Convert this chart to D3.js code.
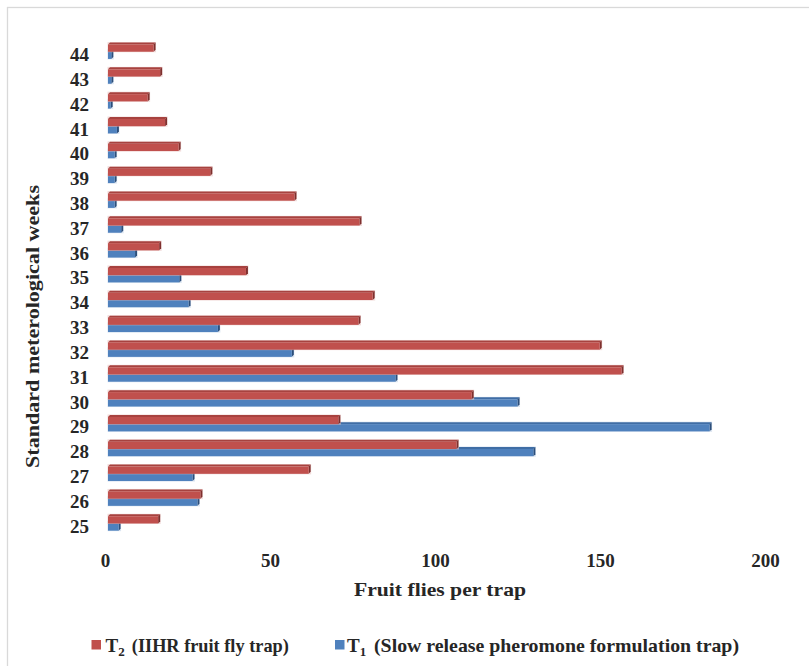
<!DOCTYPE html>
<html>
<head>
<meta charset="utf-8">
<script src="https://cdn.jsdelivr.net/npm/d3@7"></script>
<style>
  html, body { margin: 0; padding: 0; background: #ffffff; }
  svg { display: block; }
  text { font-family: "Liberation Serif", "DejaVu Serif", serif; font-weight: bold; fill: #262626; }
</style>
</head>
<body>
<svg id="chart" width="809" height="666"></svg>
<script>
// Standard meteorological weeks, top of the chart first
const weeks = [44, 43, 42, 41, 40, 39, 38, 37, 36, 35, 34, 33, 32, 31, 30, 29, 28, 27, 26, 25];
// T2: IIHR fruit fly trap (fruit flies per trap)
const t2Values = [13.8, 15.8, 12.0, 17.3, 21.4, 31.0, 56.5, 76.2, 15.5, 41.8, 80.2, 75.9, 149.0, 155.6, 110.2, 69.8, 105.6, 60.8, 28.0, 15.2];
// T1: slow release pheromone formulation trap (fruit flies per trap)
const t1Values = [1.0, 1.0, 0.8, 2.7, 2.0, 2.0, 2.0, 4.0, 8.2, 21.6, 24.4, 33.3, 55.7, 87.1, 124.1, 182.3, 128.9, 25.6, 27.1, 3.2];
const xTicks = [0, 50, 100, 150, 200];
const seriesKeys = ["t2", "t1"];

const svg = d3.select("#chart");

// outer frame of the chart area
svg.append("rect")
  .attr("x", 7.5).attr("y", 7.5)
  .attr("width", 820).attr("height", 680)
  .attr("fill", "none").attr("stroke", "#d9d9d9").attr("stroke-width", 1.3);

const x = d3.scaleLinear().domain([0, 200]).range([108, 768]);
const y = d3.scaleBand().domain(weeks).range([34.1, 541.1]).paddingInner(0.42).paddingOuter(0.42);
const ySub = d3.scaleBand().domain(seriesKeys).range([0, y.bandwidth()]);

const rows = weeks.map((w, i) => ({ week: w, t2: t2Values[i], t1: t1Values[i] }));

const palette = {
  t2: { front: "#C0504D", top: "#A7423F", side: "#7E302E", halo: "#e8c4c3" },
  t1: { front: "#4F81BD", top: "#3F6DA5", side: "#2C4E7A", halo: "#c3d3e8" }
};
const depth = 2;

// draw T1 first so the T2 front face covers T1's top face
const bars = [];
rows.forEach(r => {
  ["t1", "t2"].forEach(k => bars.push({ week: r.week, key: k, value: r[k] }));
});

const g = svg.append("g");
const barG = g.selectAll("g.bar").data(bars).join("g").attr("class", "bar");

barG.each(function(d) {
  const sel = d3.select(this);
  const x0 = x(0), x1 = x(d.value);
  const y0 = y(d.week) + ySub(d.key);
  const h = ySub.bandwidth();
  const c = palette[d.key];
  // soft halo
  sel.append("rect")
    .attr("x", x0 - 0.5).attr("y", y0 - depth - 0.5)
    .attr("width", x1 - x0 + depth + 1).attr("height", h + depth + 1)
    .attr("fill", c.halo).attr("opacity", 0.6);
  // top face
  sel.append("path")
    .attr("d", `M${x0},${y0} L${x0 + depth},${y0 - depth} L${x1 + depth},${y0 - depth} L${x1},${y0} Z`)
    .attr("fill", c.top);
  // side face
  sel.append("path")
    .attr("d", `M${x1},${y0} L${x1 + depth},${y0 - depth} L${x1 + depth},${y0 + h - depth} L${x1},${y0 + h} Z`)
    .attr("fill", c.side);
  // front face
  sel.append("rect")
    .attr("x", x0).attr("y", y0)
    .attr("width", Math.max(0, x1 - x0)).attr("height", h)
    .attr("fill", c.front);
});

// week labels
svg.append("g").selectAll("text").data(weeks).join("text")
  .attr("x", 89)
  .attr("y", d => y(d) + y.bandwidth() / 2 + 9.3)
  .attr("text-anchor", "end")
  .attr("font-size", 19)
  .text(d => d);

// value axis labels
svg.append("g").selectAll("text").data(xTicks).join("text")
  .attr("x", d => x(d) - 2.4)
  .attr("y", 567)
  .attr("text-anchor", "middle")
  .attr("font-size", 19)
  .text(d => d);

// axis titles
svg.append("text")
  .attr("x", 440).attr("y", 596)
  .attr("text-anchor", "middle")
  .attr("font-size", 19.5)
  .attr("textLength", 172).attr("lengthAdjust", "spacingAndGlyphs")
  .text("Fruit flies per trap");

svg.append("text")
  .attr("transform", "translate(39,326.5) rotate(-90)")
  .attr("text-anchor", "middle")
  .attr("font-size", 19.5)
  .attr("textLength", 283).attr("lengthAdjust", "spacingAndGlyphs")
  .text("Standard meterological weeks");

// legend
const legendItems = [
  { key: "t2", sub: "2", label: "(IIHR fruit fly trap)", sx: 91.5, tx: 105.5, lx: 131.8, lw: 157 },
  { key: "t1", sub: "1", label: "(Slow release pheromone formulation trap)", sx: 335, tx: 347, lx: 374, lw: 365 }
];
const leg = svg.append("g").selectAll("g").data(legendItems).join("g");
leg.append("rect")
  .attr("x", d => d.sx).attr("y", 640)
  .attr("width", 9.5).attr("height", 9.5)
  .attr("fill", d => palette[d.key].front);
const tt = leg.append("text")
  .attr("x", d => d.tx).attr("y", 651.5)
  .attr("font-size", 19);
tt.append("tspan").text("T");
tt.append("tspan").attr("font-size", 13).attr("dy", 4).text(d => d.sub);
leg.append("text")
  .attr("x", d => d.lx).attr("y", 651.5)
  .attr("font-size", 19)
  .attr("textLength", d => d.lw).attr("lengthAdjust", "spacingAndGlyphs")
  .text(d => d.label);
</script>
</body>
</html>
